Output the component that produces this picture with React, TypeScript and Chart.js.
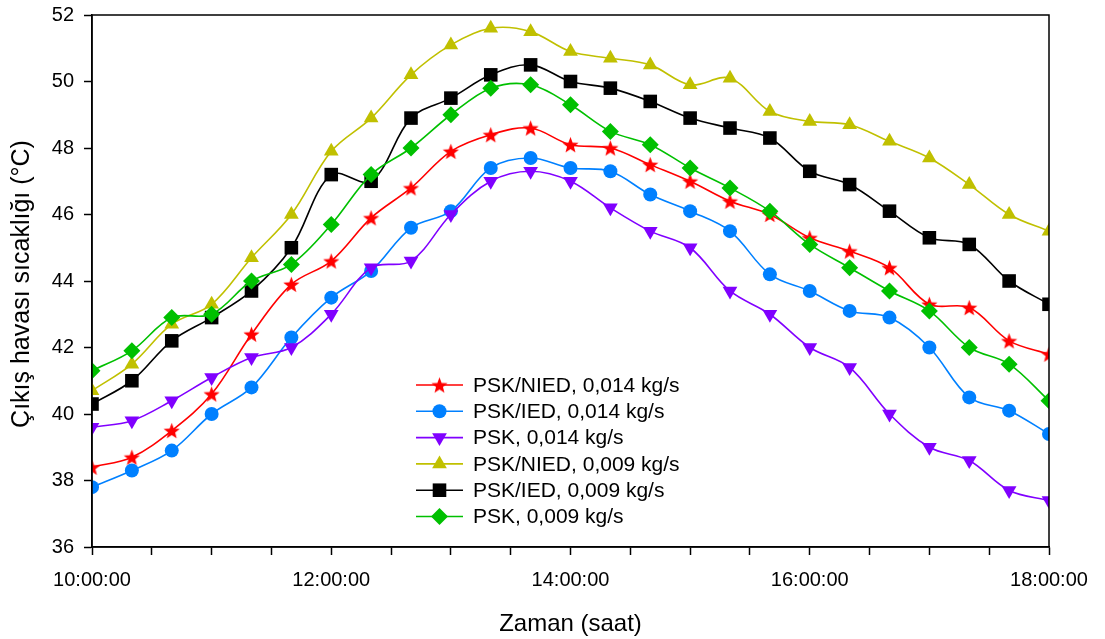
import React, { useEffect, useRef } from 'react';
import { Chart, registerables } from 'chart.js';
import { drawPoint } from 'chart.js/helpers';

Chart.register(...registerables);

// Time of day in minutes after midnight (10:00 → 18:00, every 20 minutes)
const timeMinutes = [
  600, 620, 640, 660, 680, 700, 720, 740, 760, 780, 800, 820, 840,
  860, 880, 900, 920, 940, 960, 980, 1000, 1020, 1040, 1060, 1080,
];

// Labelled x ticks
const xLabelTimes = [600, 720, 840, 960, 1080];
const xLabelTexts = ['10:00:00', '12:00:00', '14:00:00', '16:00:00', '18:00:00'];

// Outlet air temperature (°C)
const pskNied014 = [
  38.4, 38.7, 39.5, 40.6, 42.4, 43.9, 44.6, 45.9, 46.8, 47.9, 48.4, 48.6, 48.1,
  48.0, 47.5, 47.0, 46.4, 46.0, 45.3, 44.9, 44.4, 43.3, 43.2, 42.2, 41.8,
];
const pskIed014 = [
  37.8, 38.3, 38.9, 40.0, 40.8, 42.3, 43.5, 44.3, 45.6, 46.1, 47.4, 47.7, 47.4,
  47.3, 46.6, 46.1, 45.5, 44.2, 43.7, 43.1, 42.9, 42.0, 40.5, 40.1, 39.4,
];
const psk014 = [
  39.6, 39.8, 40.4, 41.1, 41.7, 42.0, 43.0, 44.4, 44.6, 46.0, 47.0, 47.3, 47.0,
  46.2, 45.5, 45.0, 43.7, 43.0, 42.0, 41.4, 40.0, 39.0, 38.6, 37.7, 37.4,
];
const pskNied009 = [
  40.7, 41.5, 42.7, 43.3, 44.7, 46.0, 47.9, 48.9, 50.2, 51.1, 51.6, 51.5, 50.9,
  50.7, 50.5, 49.9, 50.1, 49.1, 48.8, 48.7, 48.2, 47.7, 46.9, 46.0, 45.5,
];
const pskIed009 = [
  40.3, 41.0, 42.2, 42.9, 43.7, 45.0, 47.2, 47.0, 48.9, 49.5, 50.2, 50.5, 50.0,
  49.8, 49.4, 48.9, 48.6, 48.3, 47.3, 46.9, 46.1, 45.3, 45.1, 44.0, 43.3,
];
const psk009 = [
  41.3, 41.9, 42.9, 43.0, 44.0, 44.5, 45.7, 47.2, 48.0, 49.0, 49.8, 49.9, 49.3,
  48.5, 48.1, 47.4, 46.8, 46.1, 45.1, 44.4, 43.7, 43.1, 42.0, 41.5, 40.4,
];

const seriesNames = [
  'PSK/NIED, 0,014 kg/s',
  'PSK/IED, 0,014 kg/s',
  'PSK, 0,014 kg/s',
  'PSK/NIED, 0,009 kg/s',
  'PSK/IED, 0,009 kg/s',
  'PSK, 0,009 kg/s',
];
const seriesValues = [pskNied014, pskIed014, psk014, pskNied009, pskIed009, psk009];
const seriesColors = ['#ff0000', '#0080ff', '#8000ff', '#c0c000', '#000000', '#00c000'];

const FONT = '"Liberation Sans", Arial, sans-serif';

// Filled five-pointed star used as a point marker
function makeStar(color: string, outer: number, inner: number): HTMLCanvasElement {
  const size = Math.ceil(outer * 2 + 2);
  const c = document.createElement('canvas');
  c.width = size;
  c.height = size;
  const ctx = c.getContext('2d')!;
  const cx = size / 2;
  const cy = size / 2 + 0.8;
  ctx.beginPath();
  for (let i = 0; i < 10; i++) {
    const r = i % 2 === 0 ? outer : inner;
    const a = -Math.PI / 2 + (i * Math.PI) / 5;
    const px = cx + Math.cos(a) * r;
    const py = cy + Math.sin(a) * r;
    if (i === 0) ctx.moveTo(px, py);
    else ctx.lineTo(px, py);
  }
  ctx.closePath();
  ctx.fillStyle = color;
  ctx.fill();
  return c;
}

type Marker = { pointStyle: any; radius: number; rotation: number };

export default function App() {
  const canvasRef = useRef<HTMLCanvasElement | null>(null);

  useEffect(() => {
    const canvas = canvasRef.current;
    if (!canvas) return;

    const star = makeStar('#ff0000', 8.5, 3.6);
    const markers: Marker[] = [
      { pointStyle: star, radius: 8, rotation: 0 },
      { pointStyle: 'circle', radius: 7, rotation: 0 },
      { pointStyle: 'triangle', radius: 8.5, rotation: 180 },
      { pointStyle: 'triangle', radius: 8.5, rotation: 0 },
      { pointStyle: 'rect', radius: 9.6, rotation: 0 },
      { pointStyle: 'rectRot', radius: 8.5, rotation: 0 },
    ];

    const datasets = seriesValues.map((vals, i) => ({
      label: seriesNames[i],
      data: vals.map((v, j) => ({ x: timeMinutes[j], y: v })),
      borderColor: seriesColors[i],
      backgroundColor: seriesColors[i],
      borderWidth: 1.6,
      tension: 0.35,
      pointStyle: markers[i].pointStyle,
      pointRadius: markers[i].radius,
      pointRotation: markers[i].rotation,
      pointBorderWidth: 0,
      pointBackgroundColor: seriesColors[i],
      order: seriesValues.length - i,
    }));

    const framePlugin = {
      id: 'frameLegendTitles',
      afterDraw(chart: any) {
        const { ctx, chartArea } = chart;
        const { left, right, top, bottom } = chartArea;
        ctx.save();
        // plot frame
        ctx.strokeStyle = '#000';
        ctx.lineWidth = 1.5;
        ctx.strokeRect(left, top, right - left, bottom - top);

        // legend inside the plot
        const lx = left + 324;
        const rowTop = 385;
        const rowGap = 26.3;
        ctx.font = `21px ${FONT}`;
        ctx.textBaseline = 'middle';
        ctx.textAlign = 'left';
        seriesNames.forEach((name, i) => {
          const y = rowTop + i * rowGap;
          ctx.strokeStyle = seriesColors[i];
          ctx.lineWidth = 1.6;
          ctx.beginPath();
          ctx.moveTo(lx, y);
          ctx.lineTo(lx + 47, y);
          ctx.stroke();
          ctx.fillStyle = seriesColors[i];
          drawPoint(
            ctx,
            {
              pointStyle: markers[i].pointStyle,
              radius: markers[i].radius,
              rotation: markers[i].rotation,
              borderWidth: 0,
            } as any,
            lx + 23.5,
            y
          );
          ctx.fillStyle = '#000';
          ctx.fillText(name, lx + 57, y + 1);
        });

        // axis titles
        ctx.fillStyle = '#000';
        ctx.font = `24px ${FONT}`;
        ctx.textAlign = 'center';
        ctx.textBaseline = 'middle';
        ctx.fillText('Zaman (saat)', (left + right) / 2, 624);

        ctx.save();
        ctx.translate(22, 284);
        ctx.rotate(-Math.PI / 2);
        ctx.font = `25px ${FONT}`;
        ctx.fillText('Çıkış havası sıcaklığı (°C)', 0, 0);
        ctx.restore();

        ctx.restore();
      },
    };

    const chart = new Chart(canvas, {
      type: 'line',
      data: { datasets },
      plugins: [framePlugin],
      options: {
        animation: false,
        responsive: true,
        maintainAspectRatio: false,
        layout: { padding: { left: 0, right: 56, top: 15, bottom: 0 } },
        plugins: {
          legend: { display: false },
          tooltip: { enabled: false },
        },
        scales: {
          x: {
            type: 'linear',
            min: 600,
            max: 1080,
            afterFit: (s: any) => {
              s.height = 92;
              s.paddingLeft = 0;
              s.paddingRight = 0;
            },
            ticks: {
              stepSize: 30,
              autoSkip: false,
              maxRotation: 0,
              padding: 13,
              color: '#000',
              font: { family: FONT, size: 20 },
              callback: (v: any) => {
                const k = xLabelTimes.indexOf(Number(v));
                return k >= 0 ? xLabelTexts[k] : '';
              },
            },
            grid: {
              drawOnChartArea: false,
              drawTicks: true,
              tickLength: 8,
              tickWidth: 1.5,
              tickColor: '#000',
            },
            border: { display: true, color: '#000', width: 1.5 },
          },
          y: {
            min: 36,
            max: 52,
            afterFit: (s: any) => {
              s.width = 92;
              s.paddingTop = 0;
              s.paddingBottom = 0;
            },
            ticks: {
              stepSize: 2,
              padding: 10,
              color: '#000',
              font: { family: FONT, size: 20 },
            },
            grid: {
              drawOnChartArea: false,
              drawTicks: true,
              tickLength: 8,
              tickWidth: 1.5,
              tickColor: '#000',
            },
            border: { display: true, color: '#000', width: 1.5 },
          },
        },
      },
    });

    return () => {
      chart.destroy();
    };
  }, []);

  return (
    <div
      style={{
        position: 'fixed',
        left: 0,
        top: 0,
        width: 1105,
        height: 639,
        background: '#fff',
      }}
    >
      <canvas ref={canvasRef} />
    </div>
  );
}
